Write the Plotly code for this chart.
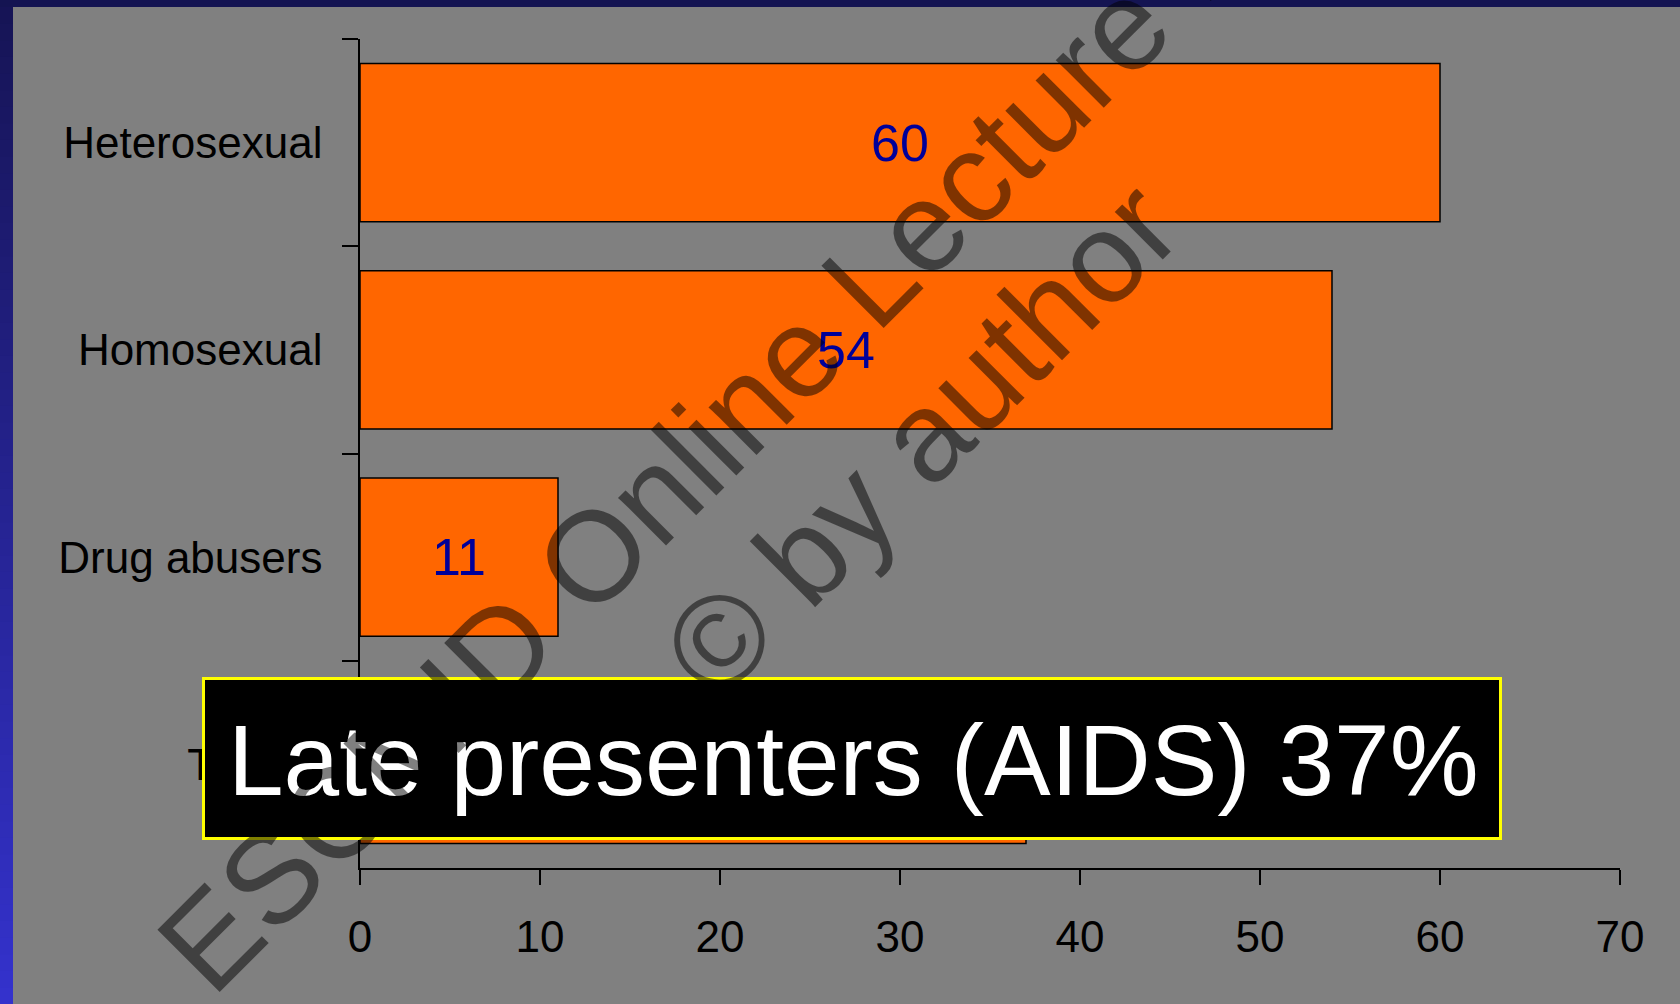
import plotly.graph_objects as go

categories = ["Heterosexual", "Homosexual", "Drug abusers", "Transf."]
values = [60, 54, 11, 37]
x_ticks = [0, 10, 20, 30, 40, 50, 60, 70]
box_text = "Late presenters (AIDS) 37%"
watermark_1 = "ESCMID Online Lecture Library"
watermark_2 = "© by author"

W, H = 1680, 1004
L, R, T, B = 360, 60, 39, 136
PW, PH = W - L - R, H - T - B


def px(xp):
    return (xp - L) / PW


def py(yp):
    return (H - B - yp) / PH


fig = go.Figure()
fig.add_trace(go.Bar(
    y=categories, x=values, orientation="h",
    marker=dict(color="#ff6600", line=dict(color="black", width=1.5)),
    text=[str(v) for v in values], textposition="inside", insidetextanchor="middle",
    textangle=0, constraintext="none",
    textfont=dict(family="Liberation Sans, Arial", size=52, color="#000099"),
    hoverinfo="skip",
))

shapes = []
# top band
shapes.append(dict(type="rect", xref="paper", yref="paper", x0=px(0), x1=px(W), y0=py(7), y1=py(0),
                   fillcolor="#141452", line=dict(width=0), layer="below"))
# left gradient border
n = 60
c0 = (22, 20, 86)
c1 = (52, 50, 204)
for i in range(n):
    t = i / (n - 1)
    c = tuple(int(round(c0[k] + (c1[k] - c0[k]) * t)) for k in range(3))
    ya = 7 + (H - 7) * i / n
    yb = 7 + (H - 7) * (i + 1) / n + 1
    shapes.append(dict(type="rect", xref="paper", yref="paper", x0=px(0), x1=px(13), y0=py(yb), y1=py(ya),
                       fillcolor="rgb(%d,%d,%d)" % c, line=dict(width=0), layer="below"))
# black box with yellow border
shapes.append(dict(type="rect", xref="paper", yref="paper", x0=px(203.5), x1=px(1500.5), y0=py(838.5), y1=py(678.5),
                   fillcolor="black", line=dict(color="#ffff00", width=3), layer="above"))

annotations = [
    dict(text=box_text, xref="paper", yref="paper", x=px(853), y=py(760), xanchor="center", yanchor="middle",
         showarrow=False, font=dict(family="Liberation Sans, Arial", size=100, color="white")),
    dict(text=watermark_1, xref="paper", yref="paper", x=px(814), y=py(334), xanchor="center", yanchor="middle",
         showarrow=False, textangle=-45, font=dict(family="Liberation Sans, Arial", size=128, color="rgba(0,0,0,0.5)")),
    dict(text=watermark_2, xref="paper", yref="paper", x=px(921), y=py(439), xanchor="center", yanchor="middle",
         showarrow=False, textangle=-45, font=dict(family="Liberation Sans, Arial", size=128, color="rgba(0,0,0,0.5)")),
]

fig.update_layout(
    width=W, height=H, margin=dict(l=L, r=R, t=T, b=B, pad=0),
    paper_bgcolor="#808080", plot_bgcolor="#808080",
    showlegend=False, bargap=0.237,
    shapes=shapes, annotations=annotations,
    xaxis=dict(range=[0, 70], tickvals=x_ticks, ticktext=[str(v) for v in x_ticks],
               showgrid=False, zeroline=False, showline=True, linecolor="black", linewidth=1.5,
               ticks="outside", ticklen=15, tickwidth=1.5, tickcolor="black",
               tickfont=dict(family="Liberation Sans, Arial", size=44, color="black"),
               ticklabelstandoff=14, fixedrange=True),
    yaxis=dict(autorange="reversed", showgrid=False, zeroline=False, showline=True, linecolor="black", linewidth=1.5,
               ticks="outside", ticklen=16, tickwidth=1.5, tickcolor="black", tickson="boundaries",
               tickfont=dict(family="Liberation Sans, Arial", size=44, color="black"),
               ticklabelstandoff=27, fixedrange=True),
)

fig.write_html("out.html", config={"displayModeBar": False})
